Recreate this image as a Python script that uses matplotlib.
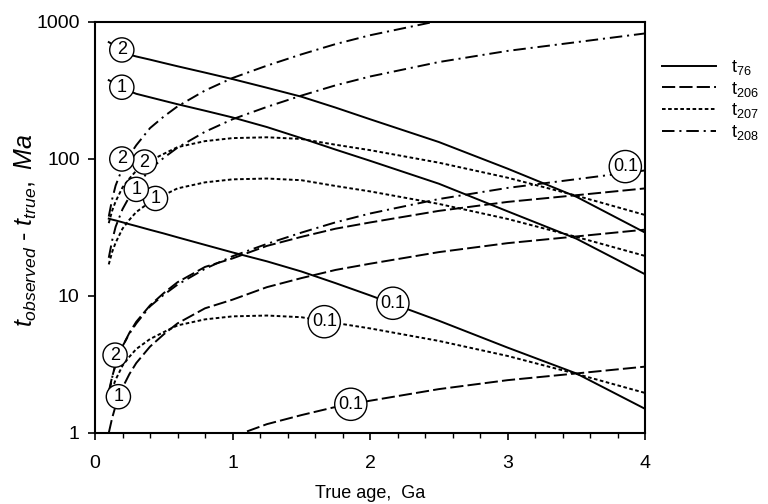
import matplotlib
matplotlib.use('Agg')
import matplotlib.pyplot as plt
from matplotlib.ticker import MultipleLocator, NullLocator

plt.rcParams['font.family'] = 'Liberation Sans'
plt.rcParams['mathtext.fontset'] = 'custom'
plt.rcParams['mathtext.rm'] = 'Liberation Sans'
plt.rcParams['mathtext.it'] = 'Liberation Sans:italic'
plt.rcParams['lines.scale_dashes'] = False

# true age, Ga
age = [0.1, 0.125, 0.15, 0.2, 0.25, 0.3, 0.4, 0.5, 0.6, 0.8, 1.0,
       1.25, 1.5, 1.75, 2.0, 2.5, 3.0, 3.5, 4.0]

# t76 (solid)
t76_2 = [713, 689, 665, 622, 578, 560, 531, 502, 475, 427, 383,
         331, 285, 237, 195, 133, 85, 53, 29]
t76_1 = [376, 365, 355, 334, 313, 299, 282, 266, 251, 225, 201,
         171, 142, 117, 97, 66, 41.5, 26.2, 14.4]
t76_01 = [36.7, 36.1, 35.6, 34.5, 33.4, 32.4, 30.4, 28.6, 26.8, 23.6, 20.8,
          17.9, 15.1, 12.4, 10.1, 6.6, 4.2, 2.72, 1.5]

# t206 (long dash)
t206_2 = [2.0, 2.58, 3.16, 4.28, 5.38, 6.48, 8.54, 10.5, 12.6, 16.3, 18.8,
          23.2, 27, 31, 34.4, 41.8, 48.6, 54.4, 61]
t206_1 = [1.0, 1.29, 1.58, 2.14, 2.69, 3.24, 4.27, 5.25, 6.31, 8.13, 9.4,
          11.6, 13.5, 15.5, 17.2, 20.9, 24.3, 27.2, 30.5]
t206_01 = [0.1, 0.129, 0.158, 0.214, 0.269, 0.324, 0.427, 0.525, 0.631, 0.813, 0.94,
           1.16, 1.35, 1.55, 1.72, 2.09, 2.43, 2.72, 3.05]

# t207 (short dash)
t207_2 = [34, 42, 49, 62, 72, 82, 97, 109, 122, 135, 142,
          144, 140, 127, 116, 94, 73, 54, 39]
t207_1 = [17, 21, 24.5, 31, 36, 41, 48.5, 54.5, 61, 67.5, 71,
          72, 70, 63.5, 58, 47, 36.5, 27, 19.6]
t207_01 = [1.7, 2.1, 2.45, 3.1, 3.6, 4.1, 4.85, 5.45, 6.1, 6.75, 7.1,
           7.2, 7.0, 6.35, 5.8, 4.7, 3.65, 2.7, 1.96]

# t208 (dash-dot)
t208_2 = [38, 51, 64, 86, 106, 126, 168, 204, 242, 316, 390,
          480, 580, 690, 800, 1020, 1230, 1424, 1650]
t208_1 = [19, 25.5, 32, 43, 53, 63, 84, 102, 121, 158, 195,
          240, 290, 345, 400, 510, 615, 712, 825]
t208_01 = [1.9, 2.55, 3.2, 4.3, 5.3, 6.3, 8.4, 10.2, 12.1, 15.8, 19.5,
           24, 29, 34.5, 40, 51, 61.5, 71.2, 82.5]

names = ['t$_{76}$', 't$_{206}$', 't$_{207}$', 't$_{208}$']
styles = ['-', (0, (9.5, 3)), (0, (2.6, 1.8)), (0, (9, 3.5, 1.5, 3.5))]
curves = [[t76_2, t76_1, t76_01],
          [t206_2, t206_1, t206_01],
          [t207_2, t207_1, t207_01],
          [t208_2, t208_1, t208_01]]

# circle labels: (text, x, y)
tags = [('2', 0.195, 625), ('1', 0.195, 334), ('0.1', 2.166, 8.85),
        ('2', 0.146, 3.7), ('1', 0.17, 1.84), ('0.1', 1.86, 1.62),
        ('2', 0.36, 95), ('1', 0.44, 51.5), ('0.1', 1.667, 6.49),
        ('2', 0.195, 100), ('1', 0.30, 60), ('0.1', 3.856, 88)]

fig = plt.figure(figsize=(7.68, 5.04), dpi=100)
ax = fig.add_axes([0.1237, 0.1409, 0.7163, 0.8155])

for name, ls, group in zip(names, styles, curves):
    for i, vals in enumerate(group):
        ax.plot(age, vals, color='black', lw=1.4, linestyle=ls,
                label=name if i == 0 else None)

for txt, x, y in tags:
    ax.text(x, y, txt, fontsize=13, ha='center', va='center', zorder=5,
            bbox=dict(boxstyle='circle,pad=0.2', fc='white', ec='black', lw=1.0))

ax.set_yscale('log')
ax.set_xlim(0, 4)
ax.set_ylim(1, 1000)
ax.set_yticks([1, 10, 100, 1000], ['1', '10', '100', '1000'])
ax.yaxis.set_minor_locator(NullLocator())
ax.set_xticks([0, 1, 2, 3, 4])
ax.xaxis.set_minor_locator(MultipleLocator(0.2))
ax.tick_params(which='major', direction='out', length=5, width=1.2, labelsize=14, color='black')
ax.tick_params(axis='x', which='major', pad=11)
ax.tick_params(axis='y', which='major', pad=6)
ax.tick_params(which='minor', direction='out', length=3.5, width=1.0)
for s in ax.spines.values():
    s.set_linewidth(1.5)

ax.set_xlabel('True age,  Ga', fontsize=13, labelpad=9)
ax.set_ylabel(r'$t_{observed}$ - $t_{true},\ Ma$', fontsize=18)
ax.yaxis.set_label_coords(-0.102, 0.494)

fig.legend(loc='upper left', bbox_to_anchor=(0.862, 0.885), frameon=False,
           fontsize=13, handlelength=3.0, handletextpad=0.8, labelspacing=0.15,
           borderpad=0, borderaxespad=0)

fig.savefig('out.png', dpi=100)
